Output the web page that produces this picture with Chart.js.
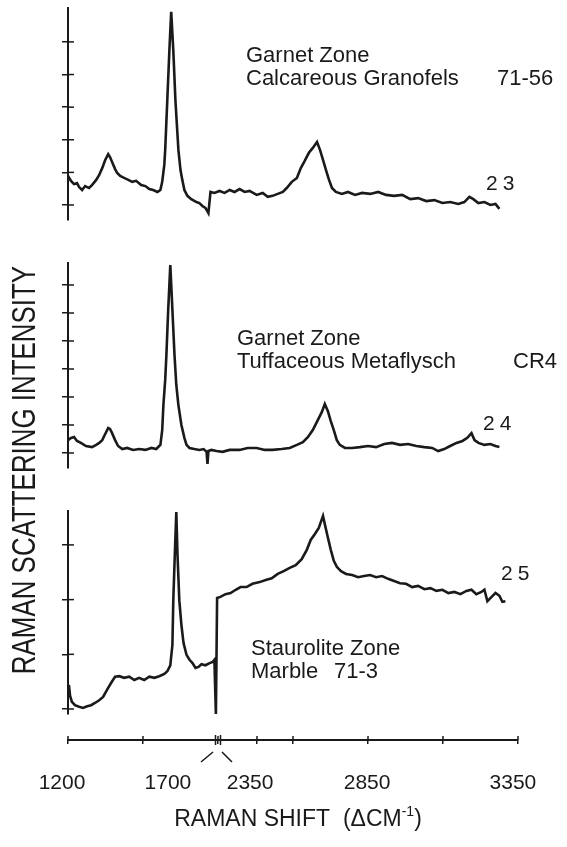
<!DOCTYPE html>
<html>
<head>
<meta charset="utf-8">
<title>Raman spectra</title>
<script src="https://cdn.jsdelivr.net/npm/chart.js@4.4.1/dist/chart.umd.min.js"></script>
<style>
  html, body { margin: 0; padding: 0; background: #ffffff; }
  #wrap { position: relative; width: 567px; height: 847px; }
</style>
</head>
<body>
<div id="wrap">
  <canvas id="ramanChart" width="567" height="847"></canvas>
</div>
<script>
// spectra
// shift in cm-1, intensity in tick steps of each panel's own axis
const shift23 = [1200,1210,1220,1230,1237,1247,1257,1270,1280,1294,1304,1314,1324,1334,1340,1347,1357,1364,1374,1387,
  1401,1414,1427,1444,1458,1471,1484,1498,1508,1514,1521,1524,1531,1538,1544,1551,1558,1568,1575,1581,
  1588,1598,1611,1628,1638,1648,1658,1668,
  2325,2338,2355,2372,2389,2405,2422,2439,2455,2479,2499,2516,2532,2549,2566,2579,2596,2613,2626,2639,
  2653,2666,2680,2690,2700,2710,2720,2730,2743,2763,2783,2807,2830,2857,2884,2910,2937,2964,2991,3017,
  3044,3071,3098,3124,3151,3171,3188,3201,3218,3238,3258,3275,3288];
const int23 = [0.89,0.74,0.64,0.67,0.55,0.46,0.58,0.52,0.61,0.77,0.92,1.13,1.38,1.56,1.47,1.32,1.10,0.98,0.89,0.83,
  0.77,0.71,0.74,0.61,0.58,0.49,0.46,0.40,0.46,0.71,1.23,1.69,3.22,4.75,5.92,4.75,3.22,1.69,1.07,0.77,
  0.46,0.28,0.18,0.09,0.06,-0.03,-0.09,-0.25,
  0.40,0.37,0.43,0.37,0.46,0.40,0.49,0.40,0.43,0.31,0.37,0.25,0.28,0.34,0.40,0.52,0.71,0.83,1.13,1.35,
  1.60,1.75,1.93,1.69,1.38,1.07,0.77,0.52,0.40,0.34,0.40,0.31,0.37,0.34,0.40,0.31,0.28,0.31,0.18,0.21,
  0.12,0.15,0.06,0.09,0.03,0.09,0.25,0.18,0.06,0.09,0.0,0.03,-0.12];

const shift24 = [1200,1210,1220,1230,1243,1260,1280,1294,1304,1314,1324,1334,1340,1347,1357,1367,1381,1397,1417,1437,
  1458,1478,1494,1504,1508,1514,1518,1524,1528,1534,1541,1548,1555,1561,1568,1578,1588,1595,1605,1621,
  1638,1652,1662,1665,
  2318,2328,2345,2365,2389,2422,2449,2479,2506,2532,2562,2589,2613,2633,2650,2666,2683,2696,2706,2716,
  2726,2736,2746,2756,2773,2797,2823,2850,2877,2904,2930,2957,2984,3011,3038,3064,3084,3104,3124,3145,
  3165,3181,3195,3205,3218,3238,3258,3275,3288];
const int24 = [0.46,0.54,0.57,0.43,0.36,0.25,0.21,0.29,0.36,0.46,0.68,0.89,0.86,0.71,0.46,0.25,0.14,0.18,0.11,0.14,
  0.11,0.18,0.14,0.25,0.29,0.82,1.71,2.61,3.50,5.11,6.71,5.11,3.50,2.43,1.71,1.00,0.54,0.29,0.18,0.14,
  0.11,0.14,0.04,-0.39,
  0.07,0.11,0.07,0.04,0.11,0.11,0.18,0.18,0.11,0.11,0.14,0.18,0.29,0.39,0.57,0.82,1.18,1.46,1.75,1.50,
  1.14,0.82,0.46,0.29,0.18,0.18,0.21,0.25,0.21,0.32,0.36,0.29,0.32,0.25,0.21,0.18,0.07,0.14,0.25,0.36,
  0.43,0.54,0.71,0.46,0.36,0.29,0.32,0.25,0.21];

const shift25 = [1203,1207,1213,1223,1237,1250,1264,1277,1290,1304,1317,1330,1344,1357,1371,1387,1404,1421,1437,1454,
  1471,1488,1504,1521,1531,1541,1548,1551,1556,1561,1565,1571,1578,1585,1595,1605,1615,1625,1635,1645,
  1658,1672,1682,1688,1693,
  2347,2358,2375,2392,2409,2425,2445,2465,2489,2509,2529,2549,2569,2589,2609,2629,2646,2659,2673,2686,
  2693,2700,2706,2716,2726,2736,2746,2760,2777,2797,2817,2837,2857,2877,2897,2917,2937,2957,2977,2997,
  3017,3038,3058,3078,3098,3118,3138,3158,3178,3195,3211,3228,3238,3248,3262,3275,3288,3298,3308];
const int25 = [0.44,0.24,0.13,0.07,0.04,0.02,0.05,0.07,0.11,0.16,0.22,0.35,0.48,0.59,0.60,0.57,0.59,0.53,0.57,0.53,
  0.59,0.57,0.60,0.64,0.69,0.80,1.17,1.99,2.82,3.60,2.82,1.99,1.54,1.21,0.99,0.90,0.84,0.75,0.77,0.82,
  0.80,0.84,0.86,0.90,-0.11,
  2.03,2.05,2.10,2.12,2.18,2.23,2.23,2.29,2.32,2.36,2.39,2.47,2.52,2.58,2.63,2.74,2.91,3.09,3.20,3.31,
  3.42,3.53,3.38,3.14,2.91,2.71,2.60,2.52,2.47,2.45,2.41,2.43,2.45,2.41,2.43,2.38,2.34,2.30,2.29,2.23,
  2.25,2.19,2.21,2.16,2.18,2.12,2.14,2.10,2.16,2.18,2.10,2.14,2.18,1.97,2.05,2.12,2.07,1.96,1.97];

// axis ticks
const xTickValues = [1200, 1450, 1700, 2480, 2600, 2850, 3100, 3350];
const xTickLabels = [1200, 1700, 2350, 2850, 3350];
const yTicks23 = [0, 1, 2, 3, 4, 5];
const yTicks24 = [0, 1, 2, 3, 4, 5, 6];
const yTicks25 = [0, 1, 2, 3];

// the shift axis is broken between 1700 and 2350
const GAP = 650;
function toAxis(w) { return w < 2000 ? w : w - GAP; }

const INK = '#1a1a1a';
const FONT = "'Liberation Sans', Arial, sans-serif";

// labels next to the break sit either side of it (axis units)
const labelNudge = {1200: -20, 1700: -167, 2350: 107, 2850: -3, 3350: -17};

function series(shift, inten) {
  return shift.map((w, i) => ({x: toAxis(w), y: inten[i]}));
}

function panelAxis(ticks, min, max, h, order) {
  return {
    type: 'linear', position: 'left', stack: 'panels', stackWeight: h, weight: order,
    min: min, max: max,
    border: {display: true, color: INK, width: 2},
    grid: {display: true, drawOnChartArea: false, drawTicks: true, tickLength: 6, color: INK, lineWidth: 1.5},
    ticks: {display: false},
    afterBuildTicks: s => { s.ticks = ticks.map(v => ({value: v})); }
  };
}
function gapAxis(h, order) {
  return {
    type: 'linear', position: 'left', stack: 'panels', stackWeight: h, weight: order,
    min: 0, max: 1,
    border: {display: false},
    grid: {display: false, drawTicks: false},
    ticks: {display: false}
  };
}

const notes = [
  ['Garnet Zone', 246, 62], ['Calcareous Granofels', 246, 85], ['71-56', 497, 85],
  ['Garnet Zone', 237, 345], ['Tuffaceous Metaflysch', 237, 368], ['CR4', 513, 368],
  ['Staurolite Zone', 251, 655], ['Marble', 251, 678], ['71-3', 334, 678]
];
const sampleNos = [['23', 486, 190], ['24', 483, 430], ['25', 501, 580]];

const figureExtras = {
  id: 'figureExtras',
  afterDraw(chart) {
    const ctx = chart.ctx;
    ctx.save();
    ctx.strokeStyle = INK;
    ctx.fillStyle = INK;
    ctx.lineWidth = 1.5;

    // ticks cross the panel axes
    ['p23', 'p24', 'p25'].forEach(id => {
      const s = chart.scales[id];
      s.ticks.forEach(t => {
        const y = s.getPixelForValue(t.value);
        ctx.beginPath(); ctx.moveTo(s.right, y); ctx.lineTo(s.right + 6, y); ctx.stroke();
      });
    });
    const xs = chart.scales.x;
    xs.ticks.forEach(t => {
      const x = xs.getPixelForValue(t.value);
      ctx.beginPath(); ctx.moveTo(x, xs.top); ctx.lineTo(x, xs.top - 4); ctx.stroke();
    });

    // break marks
    const bx = xs.getPixelForValue(toAxis(1700));
    const by = xs.top;
    ctx.beginPath();
    ctx.moveTo(bx - 2.5, by - 5); ctx.lineTo(bx - 2.5, by + 5);
    ctx.moveTo(bx + 2.5, by - 5); ctx.lineTo(bx + 2.5, by + 5);
    ctx.moveTo(bx - 17, by + 22); ctx.lineTo(bx - 5, by + 12);
    ctx.moveTo(bx + 4, by + 12); ctx.lineTo(bx + 14, by + 22);
    ctx.stroke();

    // sample notes
    ctx.textBaseline = 'alphabetic';
    ctx.textAlign = 'left';
    ctx.font = '22px ' + FONT;
    notes.forEach(n => ctx.fillText(n[0], n[1], n[2]));
    ctx.font = '21px ' + FONT;
    ctx.letterSpacing = '5px';
    sampleNos.forEach(n => ctx.fillText(n[0], n[1], n[2]));
    ctx.letterSpacing = '0px';

    // y title, narrow lettering
    ctx.save();
    ctx.translate(26, 470);
    ctx.rotate(-Math.PI / 2);
    ctx.scale(0.785, 1);
    ctx.font = '33px ' + FONT;
    ctx.textAlign = 'center';
    ctx.textBaseline = 'middle';
    ctx.fillText('RAMAN SCATTERING INTENSITY', 0, 0);
    ctx.restore();

    // x title with superscript
    ctx.save();
    ctx.translate(298, 826);
    const big = '23px ' + FONT, small = '14px ' + FONT;
    const partA = 'RAMAN SHIFT  (\u0394CM', sup = '-1', partB = ')';
    ctx.font = big; const wA = ctx.measureText(partA).width, wB = ctx.measureText(partB).width;
    ctx.font = small; const wS = ctx.measureText(sup).width;
    let x0 = -(wA + wS + wB) / 2;
    ctx.textAlign = 'left';
    ctx.font = big; ctx.fillText(partA, x0, 0);
    ctx.font = small; ctx.fillText(sup, x0 + wA, -10);
    ctx.font = big; ctx.fillText(partB, x0 + wA + wS, 0);
    ctx.restore();

    ctx.restore();
  }
};

const lineStyle = {borderColor: INK, borderWidth: 2.6, pointRadius: 0, tension: 0, fill: false, xAxisID: 'x'};

const config = {
  type: 'line',
  data: {
    datasets: [
      Object.assign({label: '23', data: series(shift23, int23), yAxisID: 'p23'}, lineStyle),
      Object.assign({label: '24', data: series(shift24, int24), yAxisID: 'p24'}, lineStyle),
      Object.assign({label: '25', data: series(shift25, int25), yAxisID: 'p25'}, lineStyle)
    ]
  },
  options: {
    responsive: false,
    animation: false,
    devicePixelRatio: 1,
    layout: {padding: {left: 62, right: 49, top: 8, bottom: 43}, autoPadding: false},
    plugins: {legend: {display: false}, tooltip: {enabled: false}, title: {display: false}},
    scales: {
      x: {
        type: 'linear', position: 'bottom', min: 1200, max: 2700, weight: 0,
        border: {display: true, color: INK, width: 2},
        grid: {display: true, drawOnChartArea: false, drawTicks: true, tickLength: 4, color: INK, lineWidth: 1.5},
        ticks: {display: false},
        afterBuildTicks: s => { s.ticks = xTickValues.map(v => ({value: toAxis(v)})); }
      },
      xl: {
        type: 'linear', position: 'bottom', min: 1200, max: 2700, weight: 1,
        border: {display: false},
        grid: {display: false, drawTicks: false},
        ticks: {
          display: true, autoSkip: false, maxRotation: 0, minRotation: 0, padding: 27, color: INK,
          font: {family: FONT, size: 21},
          callback: (v, i) => String(xTickLabels[i])
        },
        afterBuildTicks: s => { s.ticks = xTickLabels.map(v => ({value: toAxis(v) + labelNudge[v]})); },
        afterFit: s => { s.height = 60; }
      },
      p23: panelAxis(yTicks23, -0.46, 6.04, 212, 6),
      g1: gapAxis(43, 5),
      p24: panelAxis(yTicks24, -0.536, 6.786, 205, 4),
      g2: gapAxis(43, 3),
      p25: panelAxis(yTicks25, -0.091, 3.62, 203, 2),
      g3: gapAxis(26, 1)
    }
  },
  plugins: [figureExtras]
};

const ramanChart = new Chart(document.getElementById('ramanChart'), config);
</script>
</body>
</html>
